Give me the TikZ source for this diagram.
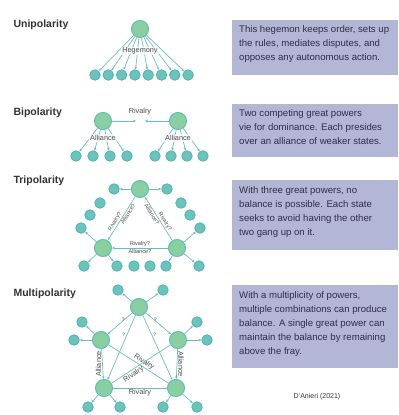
\documentclass[tikz,border=0pt]{standalone}
\usepackage{fontspec}
\setmainfont{Liberation Sans}
\usetikzlibrary{arrows.meta}
\definecolor{bigfill}{HTML}{8ACFA2}
\definecolor{bigdraw}{HTML}{5FBFB0}
\definecolor{smallfill}{HTML}{6CC3BD}
\definecolor{smalldraw}{HTML}{4FB3AE}
\definecolor{linkcol}{HTML}{6BBFBA}
\definecolor{boxfill}{HTML}{B4B6D6}
\definecolor{boxtext}{HTML}{2E2E48}
\definecolor{titlecol}{HTML}{333333}
\definecolor{labcol}{HTML}{4A4A4A}
\tikzset{
  big/.style={circle, draw=bigdraw, fill=bigfill, line width=1bp, minimum size=17bp, inner sep=0pt},
  small/.style={circle, draw=smalldraw, fill=smallfill, line width=0.8bp, minimum size=10.5bp, inner sep=0pt},
  link/.style={draw=linkcol, line width=0.7bp, -{Stealth[length=3bp,width=2.6bp]}},
  plain/.style={draw=linkcol, line width=0.7bp},
  lab/.style={font=\fontsize{7.3bp}{8bp}\selectfont, text=labcol, inner sep=1bp},
  slab/.style={font=\fontsize{5.6bp}{6.5bp}\selectfont, text=labcol, inner sep=0.8bp},
  qlab/.style={font=\fontsize{5bp}{6bp}\selectfont, text=labcol, inner sep=1.5bp},
  title/.style={font=\fontsize{10.5bp}{12bp}\selectfont\bfseries, text=titlecol, anchor=west},
  descbox/.style={fill=boxfill, draw=none},
  desctext/.style={font=\fontsize{9.6bp}{14.2bp}\selectfont, text=boxtext, anchor=north west, align=left, inner sep=0pt},
  cite/.style={font=\fontsize{7bp}{8bp}\selectfont, text=boxtext}
}
\begin{document}
\begin{tikzpicture}[x=1bp,y=-1bp]
\useasboundingbox (0,0) rectangle (399,415);

% ---------- titles ----------
\node[title] (tu) at (10,25) {Unipolarity};
\node[title] (tb) at (10,113) {Bipolarity};
\node[title] (tt) at (10,181) {Tripolarity};
\node[title] (tm) at (10,294) {Multipolarity};

% ---------- description boxes ----------
\path[descbox] (232,20) rectangle (398,75);
\node[desctext] (d1) at (239,25) {This hegemon keeps order, sets up\\the rules, mediates disputes, and\\opposes any autonomous action.};
\path[descbox] (232,104) rectangle (398,157);
\node[desctext] (d2) at (239,109) {Two competing great powers\\vie for dominance. Each presides\\over an alliance of weaker states.};
\path[descbox] (232,180) rectangle (398,250);
\node[desctext] (d3) at (239,186) {With three great powers, no\\balance is possible. Each state\\seeks to avoid having the other\\two gang up on it.};
\path[descbox] (232,285) rectangle (398,368);
\node[desctext] (d4) at (239,291) {With a multiplicity of powers,\\multiple combinations can produce\\balance. A single great power can\\maintain the balance by remaining\\above the fray.};
\node[cite] (cit) at (317,397) {D’Anieri (2021)};

% ---------- unipolarity ----------
\node[big] (u0) at (140,29) {};
\foreach \i in {1,...,8} {
  \node[small] (u\i) at ({95+(\i-1)*13.3},75) {};
  \draw[link] (u0) -- (u\i);
}
\node[lab, fill=white, fill opacity=0.75, text opacity=1] (uh) at (140,51) {Hegemony};

% ---------- bipolarity ----------
\node[big] (b1) at (103,121) {};
\node[big] (b2) at (178,121) {};
\coordinate (bc1) at (136,121);
\coordinate (bc2) at (145,121);
\draw[link] (b1) -- (bc1);
\draw[link] (b2) -- (bc2);
\node[lab] (bri) at (140,112) {Rivalry};
\foreach \i/\x in {1/76,2/93,3/110,4/127} {
  \node[small] (bl\i) at (\x,156) {};
  \draw[link] (b1) -- (bl\i);
}
\foreach \i/\x in {1/155,2/171,3/187,4/203} {
  \node[small] (br\i) at (\x,156) {};
  \draw[link] (b2) -- (br\i);
}
\node[lab, fill=white, fill opacity=0.75, text opacity=1] (ba1) at (103,138) {Alliance};
\node[lab, fill=white, fill opacity=0.75, text opacity=1] (ba2) at (178,138) {Alliance};

% ---------- tripolarity ----------
\node[big] (t1) at (140,189) {};
\node[big] (t2) at (103,248) {};
\node[big] (t3) at (177,248) {};
\node[small] (ts1) at (114,189) {};
\node[small] (ts2) at (167,189) {};
\node[small] (ts3) at (100,203) {};
\node[small] (ts4) at (90,215) {};
\node[small] (ts5) at (81,228) {};
\node[small] (ts6) at (181,203) {};
\node[small] (ts7) at (190,215) {};
\node[small] (ts8) at (200,228) {};
\node[small] (ts9) at (84,266) {};
\node[small] (ts10) at (117,266) {};
\node[small] (ts11) at (134,266) {};
\node[small] (ts12) at (150,266) {};
\node[small] (ts13) at (166,266) {};
\node[small] (ts14) at (199,266) {};
\draw[link] (t1) -- (ts1);
\draw[link] (t1) -- (ts2);
\draw[link] (t2) -- (ts5);
\draw[link] (t2) -- (ts9);
\draw[link] (t2) -- (ts10);
\draw[link] (t3) -- (ts8);
\draw[link] (t3) -- (ts14);
\draw[link] (t3) -- (ts13);
\draw[link] (t1) -- (t2) node[slab, pos=0.62, sloped, above] {Rivalry?} node[slab, pos=0.36, sloped, below] {Alliance?};
\draw[link] (t3) -- (t1) node[slab, pos=0.38, sloped, above] {Rivalry?} node[slab, pos=0.64, sloped, below] {Alliance?};
\draw[link] (t3) -- (t2) node[slab, midway, above] {Rivalry?} node[slab, midway, below] {Alliance?};

% ---------- multipolarity ----------
\node[big] (m1) at (139,307) {};
\node[big] (m2) at (101,340) {};
\node[big] (m3) at (178,340) {};
\node[big] (m4) at (104,388) {};
\node[big] (m5) at (176,388) {};
\node[small] (ms1) at (118,290) {};
\node[small] (ms2) at (163,290) {};
\node[small] (ms3) at (82,322) {};
\node[small] (ms4) at (74,340) {};
\node[small] (ms5) at (197,322) {};
\node[small] (ms6) at (207,340) {};
\node[small] (ms7) at (88,407) {};
\node[small] (ms8) at (120,407) {};
\node[small] (ms9) at (163,407) {};
\node[small] (ms10) at (197,407) {};
\draw[link] (m1) -- (ms1);
\draw[link] (m1) -- (ms2);
\draw[link] (m2) -- (ms3);
\draw[link] (m2) -- (ms4);
\draw[link] (m3) -- (ms5);
\draw[link] (m3) -- (ms6);
\draw[link] (m4) -- (ms7);
\draw[link] (m4) -- (ms8);
\draw[link] (m5) -- (ms9);
\draw[link] (m5) -- (ms10);
\draw[link] (m1) -- (m2) node[qlab, pos=0.5, above right] {?};
\draw[link] (m1) -- (m3) node[qlab, pos=0.5, above left] {?};
\draw[link] (m1) -- (m4) node[qlab, pos=0.3, left] {?};
\draw[link] (m1) -- (m5) node[qlab, pos=0.3, right] {?};
\draw[link] (m2) -- (m4) node[lab, midway, rotate=90, anchor=south] {Alliance};
\draw[link] (m3) -- (m5) node[lab, midway, rotate=-90, anchor=south] {Alliance};
\draw[plain] (m4) -- (m5) node[lab, midway, below] {Rivalry};
\draw[plain] (m2) -- (m5) node[lab, pos=0.55, sloped, above] {Rivalry};
\draw[plain] (m4) -- (m3) node[lab, pos=0.33, sloped, below] {Rivalry};
\end{tikzpicture}
\end{document}
